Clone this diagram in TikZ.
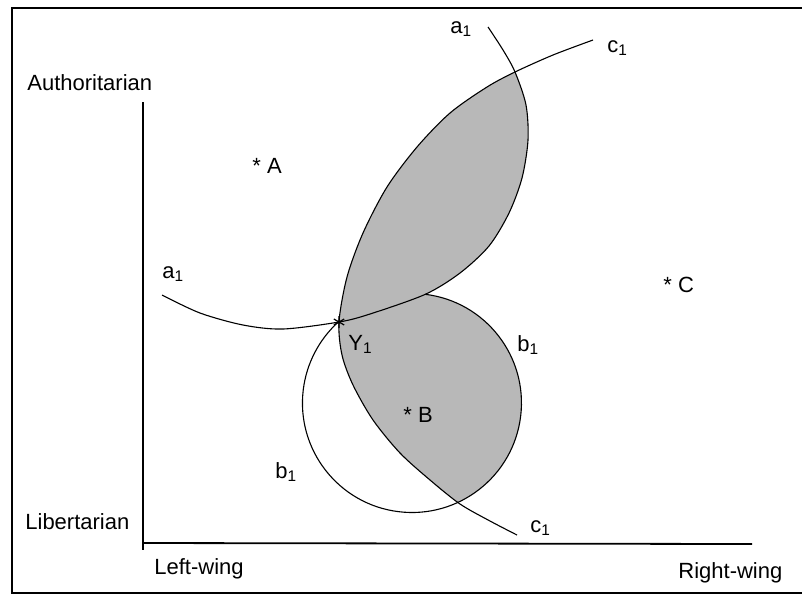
\documentclass[tikz,border=0pt]{standalone}
\usepackage{fontspec}
\setmainfont{Liberation Sans}
\begin{document}
\begin{tikzpicture}[scale=0.17573]
    \tikzstyle{every node}+=[inner sep=0pt, anchor=base west, font=\fontsize{11}{13}\selectfont]
    \tikzstyle{zone}=[fill=black!28]
    \tikzstyle{curve}=[black, line width=0.55pt]
    \tikzstyle{axis}=[black, line width=0.9pt]
    \useasboundingbox (0,0) rectangle (80.2,-59.5);
    \coordinate (Y1) at (33.9,-32.2);
    \coordinate (T) at (42.53,-29.43);
    % frame
    \draw [black, line width=0.7pt] (80.2,-0.8) -- (1.2,-0.8) -- (1.2,-59.3) -- (80.2,-59.3);
    % shaded set
    \begin{scope}
    \clip plot[smooth] coordinates {(16.2,-29.5) (20.0,-31.3) (24.3,-32.5) (28.3,-32.9) (33.9,-32.2) (37.0,-31.4) (42.53,-29.43) (46.0,-27.3) (48.9,-24.6) (50.9,-21.3) (52.2,-17.8) (52.8,-14.0) (52.6,-10.5) (51.5,-7.2) (50.3,-5.0) (48.8,-2.7)} -- (48.8,0) -- (16.2,0) -- cycle;
    \fill [zone] plot[smooth] coordinates {(59.3,-4.0) (55.3,-5.5) (51.5,-7.2) (48.7,-8.7) (45.0,-11.3) (41.7,-14.7) (38.7,-18.7) (36.3,-23.3) (34.7,-27.7) (33.9,-32.2) (34.2,-35.5) (35.3,-38.5) (37.3,-42.0) (40.0,-45.3) (43.0,-48.0) (46.0,-50.4) (49.0,-52.1) (51.7,-53.5)} -- (80.2,-53.5) -- (80.2,0) -- (59.3,0) -- cycle;
    \end{scope}
    \begin{scope}
    \clip plot[smooth] coordinates {(59.3,-4.0) (55.3,-5.5) (51.5,-7.2) (48.7,-8.7) (45.0,-11.3) (41.7,-14.7) (38.7,-18.7) (36.3,-23.3) (34.7,-27.7) (33.9,-32.2) (34.2,-35.5) (35.3,-38.5) (37.3,-42.0) (40.0,-45.3) (43.0,-48.0) (46.0,-50.4) (49.0,-52.1) (51.7,-53.5)} -- (80.2,-53.5) -- (80.2,0) -- (59.3,0) -- cycle;
    \fill [zone] (T) arc[start angle=83, end angle=-228, radius=10.95] -- cycle;
    \end{scope}
    % axes
    \draw [axis] (14.3,-10.2) -- (14.3,-55.0);
    \draw [axis] (14.3,-54.3) -- (75.2,-54.4);
    % curves a1, c1, b1
    \draw [curve] plot[smooth] coordinates {(16.2,-29.5) (20.0,-31.3) (24.3,-32.5) (28.3,-32.9) (33.9,-32.2) (37.0,-31.4) (42.53,-29.43) (46.0,-27.3) (48.9,-24.6) (50.9,-21.3) (52.2,-17.8) (52.8,-14.0) (52.6,-10.5) (51.5,-7.2) (50.3,-5.0) (48.8,-2.7)};
    \draw [curve] plot[smooth] coordinates {(59.3,-4.0) (55.3,-5.5) (51.5,-7.2) (48.7,-8.7) (45.0,-11.3) (41.7,-14.7) (38.7,-18.7) (36.3,-23.3) (34.7,-27.7) (33.9,-32.2) (34.2,-35.5) (35.3,-38.5) (37.3,-42.0) (40.0,-45.3) (43.0,-48.0) (46.0,-50.4) (49.0,-52.1) (51.7,-53.5)};
    \draw [curve] (T) arc[start angle=83, end angle=-228, radius=10.95];
    % ideal point Y1
    \draw [black, line width=0.6pt, shift={(Y1)}] (90:0.6) -- (270:0.6) (30:0.6) -- (210:0.6) (150:0.6) -- (330:0.6);
    % axis labels
    \node (auth) at (2.7,-9.07) {Authoritarian};
    \node (lib) at (2.5,-52.9) {Libertarian};
    \node (left) at (15.4,-57.4) {Left-wing};
    \node (right) at (67.8,-57.8) {Right-wing};
    % voters
    \node (vA) at (25.2,-17.3) {* A};
    \node (vB) at (40.3,-42.2) {* B};
    \node (vC) at (66.3,-29.2) {* C};
    % curve labels
    \node (a1top) at (45.0,-3.3) {a\textsubscript{1}};
    \node (a1left) at (16.2,-27.8) {a\textsubscript{1}};
    \node (c1top) at (60.7,-5.2) {c\textsubscript{1}};
    \node (c1low) at (53.0,-53.2) {c\textsubscript{1}};
    \node (b1right) at (51.7,-35.1) {b\textsubscript{1}};
    \node (b1low) at (27.5,-47.8) {b\textsubscript{1}};
    \node (y1lbl) at (34.8,-35.0) {Y\textsubscript{1}};
\end{tikzpicture}
\end{document}
